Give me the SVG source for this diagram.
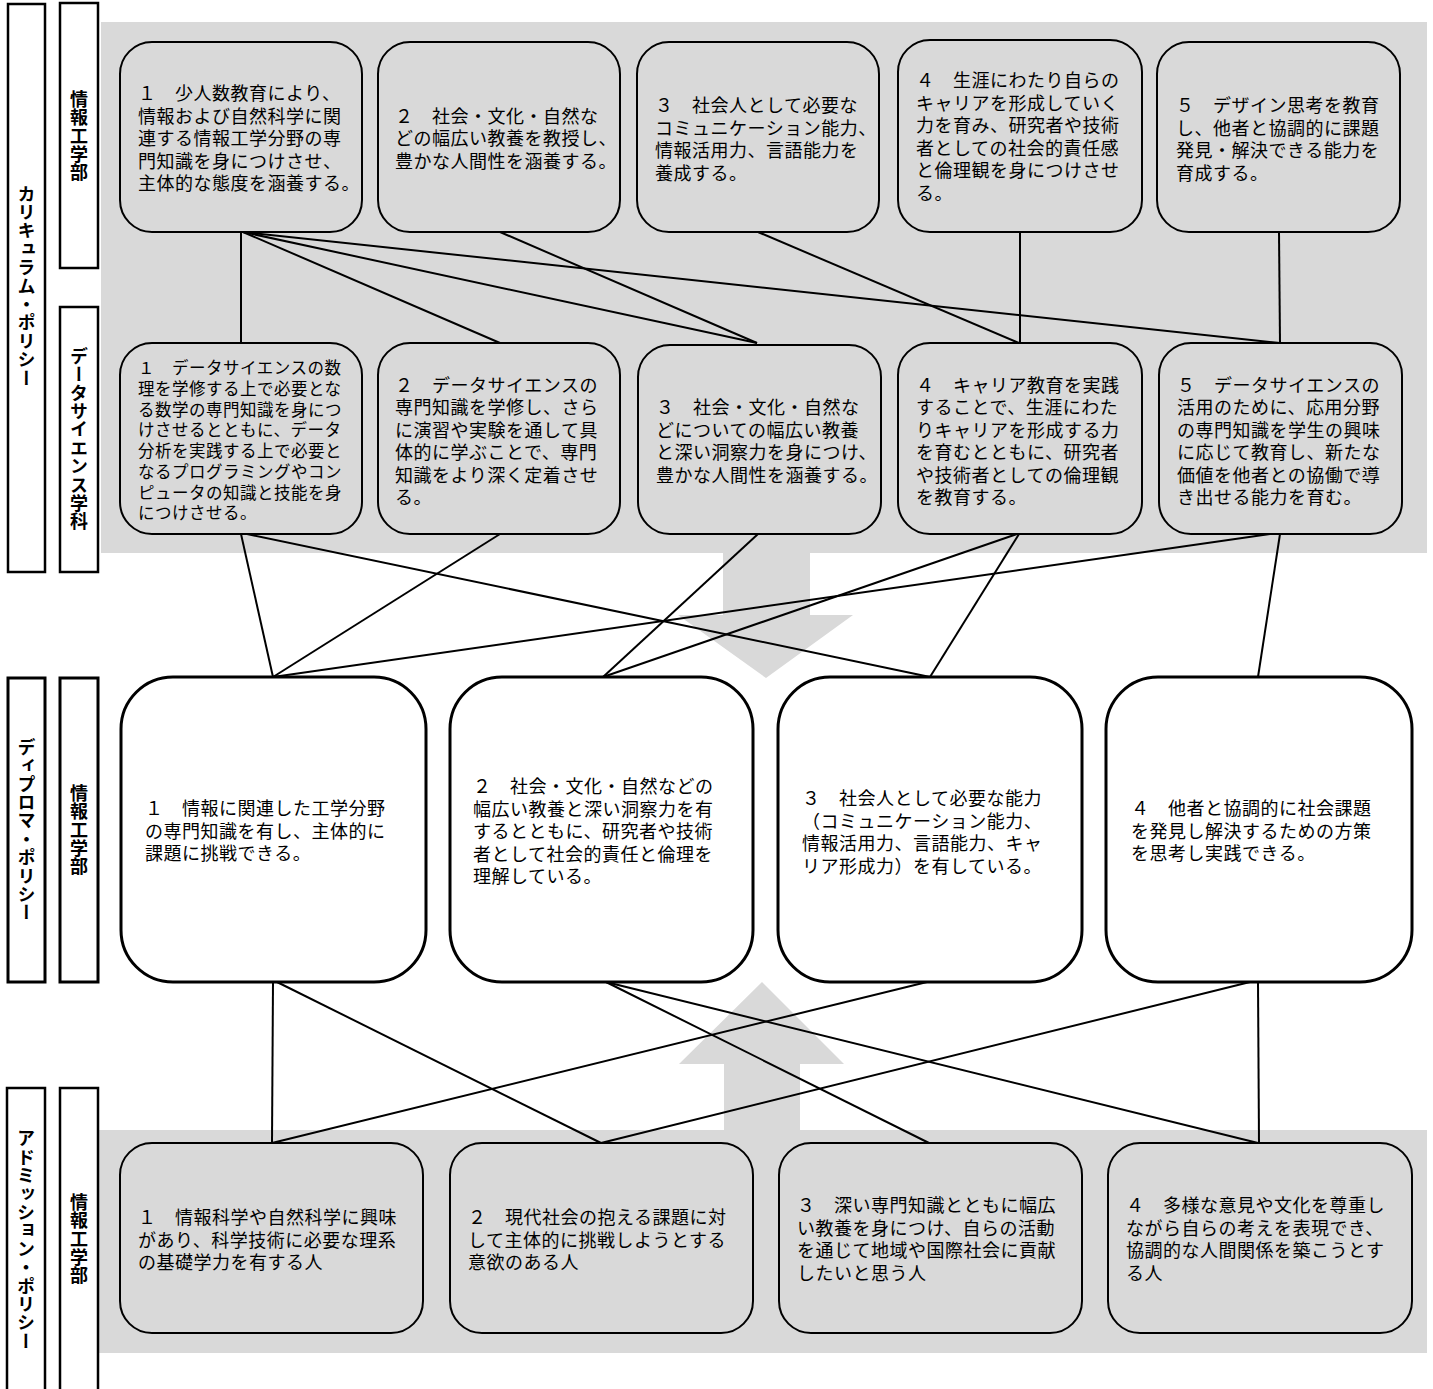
<svg xmlns="http://www.w3.org/2000/svg" width="1433" height="1389" viewBox="0 0 1433 1389">
<style>
.bg{fill:#d9d9d9}
.node{fill:#d9d9d9;stroke:#000;stroke-width:2}
.dp{fill:#fff;stroke:#000;stroke-width:3}
.lbl{fill:#fff;stroke:#000;stroke-width:2.5}
.t{font-family:"Noto Sans CJK JP","Noto Sans CJK SC",sans-serif;font-size:18px;letter-spacing:0.5px;fill:#000}
.ts{font-size:16.5px;letter-spacing:0.5px}
.vt{font-family:"Noto Sans CJK JP","Noto Sans CJK SC",sans-serif;font-size:18px;font-weight:bold;writing-mode:vertical-rl;text-anchor:middle;letter-spacing:0.4px;fill:#000}
.c{stroke:#000;stroke-width:2;fill:none}
</style>
<!-- backgrounds -->
<rect class="bg" x="101" y="22" width="1326" height="531"/>
<rect class="bg" x="98" y="1130" width="1329" height="223"/>
<polygon class="bg" points="723,553 810,553 810,615 853,615 766,678 678,615 723,615"/>
<polygon class="bg" points="724,1130 800,1130 800,1064 844,1064 762,982 679,1064 724,1064"/>
<!-- side labels -->
<g id="lbl-cp"><rect class="lbl" x="8" y="4" width="37" height="568"/><text class="vt" x="26.5" y="286">カリキュラム・ポリシー</text></g>
<g id="lbl-cp-ie"><rect class="lbl" x="60" y="3" width="38" height="265"/><text class="vt" x="79" y="136">情報工学部</text></g>
<g id="lbl-cp-ds"><rect class="lbl" x="60" y="307" width="38" height="265"/><text class="vt" x="79" y="439">データサイエンス学科</text></g>
<g id="lbl-dp"><rect class="lbl" x="8" y="678" width="37" height="304" style="stroke-width:3"/><text class="vt" x="26.5" y="830">ディプロマ・ポリシー</text></g>
<g id="lbl-dp-ie"><rect class="lbl" x="60" y="678" width="38" height="304" style="stroke-width:3"/><text class="vt" x="79" y="830">情報工学部</text></g>
<g id="lbl-ap"><rect class="lbl" x="7" y="1088" width="38" height="310"/><text class="vt" x="26" y="1240">アドミッション・ポリシー</text></g>
<g id="lbl-ap-ie"><rect class="lbl" x="60" y="1088" width="38" height="310"/><text class="vt" x="79" y="1239">情報工学部</text></g>
<!-- connectors -->
<g id="connectors" class="c">
<line x1="241" y1="232" x2="241" y2="343"/>
<line x1="243" y1="232" x2="500" y2="343"/>
<line x1="243" y1="232" x2="757" y2="343"/>
<line x1="243" y1="232" x2="1280" y2="343"/>
<line x1="500" y1="232" x2="757" y2="343"/>
<line x1="758" y1="232" x2="1019" y2="343"/>
<line x1="1020" y1="232" x2="1020" y2="343"/>
<line x1="1279" y1="232" x2="1280" y2="343"/>
<line x1="241" y1="534" x2="273" y2="677"/>
<line x1="247" y1="534" x2="930" y2="677"/>
<line x1="500" y1="534" x2="273" y2="677"/>
<line x1="758" y1="534" x2="603" y2="677"/>
<line x1="1017" y1="534" x2="603" y2="677"/>
<line x1="1019" y1="534" x2="930" y2="677"/>
<line x1="1270" y1="534" x2="273" y2="677"/>
<line x1="1280" y1="534" x2="1258" y2="677"/>
<line x1="273" y1="982" x2="272" y2="1143"/>
<line x1="277" y1="982" x2="601" y2="1143"/>
<line x1="606" y1="982" x2="929" y2="1143"/>
<line x1="606" y1="982" x2="1258" y2="1143"/>
<line x1="927" y1="982" x2="272" y2="1143"/>
<line x1="1250" y1="982" x2="601" y2="1143"/>
<line x1="1258" y1="982" x2="1259" y2="1143"/>
</g>
<!-- CP 情報工学部 -->
<g id="cp1"><rect class="node" x="120" y="42" width="242" height="190" rx="32"/>
<text class="t"><tspan x="138" y="100">１　少人数教育により、</tspan><tspan x="138" y="122.5">情報および自然科学に関</tspan><tspan x="138" y="145">連する情報工学分野の専</tspan><tspan x="138" y="167.5">門知識を身につけさせ、</tspan><tspan x="138" y="190">主体的な態度を涵養する。</tspan></text></g>
<g id="cp2"><rect class="node" x="378" y="42" width="242" height="190" rx="32"/>
<text class="t"><tspan x="395" y="122.5">２　社会・文化・自然な</tspan><tspan x="395" y="145">どの幅広い教養を教授し、</tspan><tspan x="395" y="167.5">豊かな人間性を涵養する。</tspan></text></g>
<g id="cp3"><rect class="node" x="637" y="42" width="242" height="190" rx="32"/>
<text class="t"><tspan x="655" y="112">３　社会人として必要な</tspan><tspan x="655" y="134.5">コミュニケーション能力、</tspan><tspan x="655" y="157">情報活用力、言語能力を</tspan><tspan x="655" y="179.5">養成する。</tspan></text></g>
<g id="cp4"><rect class="node" x="898" y="40" width="244" height="192" rx="32"/>
<text class="t"><tspan x="916" y="87">４　生涯にわたり自らの</tspan><tspan x="916" y="109.5">キャリアを形成していく</tspan><tspan x="916" y="132">力を育み、研究者や技術</tspan><tspan x="916" y="154.5">者としての社会的責任感</tspan><tspan x="916" y="177">と倫理観を身につけさせ</tspan><tspan x="916" y="199.5">る。</tspan></text></g>
<g id="cp5"><rect class="node" x="1157" y="42" width="243" height="190" rx="32"/>
<text class="t"><tspan x="1176" y="112">５　デザイン思考を教育</tspan><tspan x="1176" y="134.5">し、他者と協調的に課題</tspan><tspan x="1176" y="157">発見・解決できる能力を</tspan><tspan x="1176" y="179.5">育成する。</tspan></text></g>
<!-- CP データサイエンス学科 -->
<g id="ds1"><rect class="node" x="120" y="343" width="242" height="191" rx="32"/>
<text class="t ts"><tspan x="138" y="374.3">１　データサイエンスの数</tspan><tspan x="138" y="395">理を学修する上で必要とな</tspan><tspan x="138" y="415.7">る数学の専門知識を身につ</tspan><tspan x="138" y="436.4">けさせるとともに、データ</tspan><tspan x="138" y="457.1">分析を実践する上で必要と</tspan><tspan x="138" y="477.8">なるプログラミングやコン</tspan><tspan x="138" y="498.5">ピュータの知識と技能を身</tspan><tspan x="138" y="519.2">につけさせる。</tspan></text></g>
<g id="ds2"><rect class="node" x="378" y="343" width="242" height="191" rx="32"/>
<text class="t"><tspan x="395" y="392">２　データサイエンスの</tspan><tspan x="395" y="414.4">専門知識を学修し、さら</tspan><tspan x="395" y="436.8">に演習や実験を通して具</tspan><tspan x="395" y="459.2">体的に学ぶことで、専門</tspan><tspan x="395" y="481.6">知識をより深く定着させ</tspan><tspan x="395" y="504">る。</tspan></text></g>
<g id="ds3"><rect class="node" x="638" y="345" width="243" height="189" rx="32"/>
<text class="t"><tspan x="656" y="414">３　社会・文化・自然な</tspan><tspan x="656" y="436.5">どについての幅広い教養</tspan><tspan x="656" y="459">と深い洞察力を身につけ、</tspan><tspan x="656" y="481.5">豊かな人間性を涵養する。</tspan></text></g>
<g id="ds4"><rect class="node" x="898" y="343" width="244" height="191" rx="32"/>
<text class="t"><tspan x="916" y="392">４　キャリア教育を実践</tspan><tspan x="916" y="414.4">することで、生涯にわた</tspan><tspan x="916" y="436.8">りキャリアを形成する力</tspan><tspan x="916" y="459.2">を育むとともに、研究者</tspan><tspan x="916" y="481.6">や技術者としての倫理観</tspan><tspan x="916" y="504">を教育する。</tspan></text></g>
<g id="ds5"><rect class="node" x="1159" y="343" width="243" height="191" rx="32"/>
<text class="t"><tspan x="1177" y="392">５　データサイエンスの</tspan><tspan x="1177" y="414.4">活用のために、応用分野</tspan><tspan x="1177" y="436.8">の専門知識を学生の興味</tspan><tspan x="1177" y="459.2">に応じて教育し、新たな</tspan><tspan x="1177" y="481.6">価値を他者との協働で導</tspan><tspan x="1177" y="504">き出せる能力を育む。</tspan></text></g>
<!-- DP -->
<g id="dp1"><rect class="dp" x="121" y="677" width="305" height="305" rx="52"/>
<text class="t"><tspan x="145" y="815">１　情報に関連した工学分野</tspan><tspan x="145" y="837.5">の専門知識を有し、主体的に</tspan><tspan x="145" y="860">課題に挑戦できる。</tspan></text></g>
<g id="dp2"><rect class="dp" x="450" y="677" width="303" height="305" rx="52"/>
<text class="t"><tspan x="473" y="793">２　社会・文化・自然などの</tspan><tspan x="473" y="815.5">幅広い教養と深い洞察力を有</tspan><tspan x="473" y="838">するとともに、研究者や技術</tspan><tspan x="473" y="860.5">者として社会的責任と倫理を</tspan><tspan x="473" y="883">理解している。</tspan></text></g>
<g id="dp3"><rect class="dp" x="778" y="677" width="304" height="305" rx="52"/>
<text class="t"><tspan x="802" y="805">３　社会人として必要な能力</tspan><tspan x="802" y="827.5">（コミュニケーション能力、</tspan><tspan x="802" y="850">情報活用力、言語能力、キャ</tspan><tspan x="802" y="872.5">リア形成力）を有している。</tspan></text></g>
<g id="dp4"><rect class="dp" x="1106" y="677" width="306" height="305" rx="52"/>
<text class="t"><tspan x="1131" y="815">４　他者と協調的に社会課題</tspan><tspan x="1131" y="837.5">を発見し解決するための方策</tspan><tspan x="1131" y="860">を思考し実践できる。</tspan></text></g>
<!-- AP -->
<g id="ap1"><rect class="node" x="120" y="1143" width="303" height="190" rx="32"/>
<text class="t"><tspan x="138" y="1224">１　情報科学や自然科学に興味</tspan><tspan x="138" y="1246.5">があり、科学技術に必要な理系</tspan><tspan x="138" y="1269">の基礎学力を有する人</tspan></text></g>
<g id="ap2"><rect class="node" x="450" y="1143" width="303" height="190" rx="32"/>
<text class="t"><tspan x="468" y="1224">２　現代社会の抱える課題に対</tspan><tspan x="468" y="1246.5">して主体的に挑戦しようとする</tspan><tspan x="468" y="1269">意欲のある人</tspan></text></g>
<g id="ap3"><rect class="node" x="779" y="1143" width="303" height="190" rx="32"/>
<text class="t"><tspan x="797" y="1212">３　深い専門知識とともに幅広</tspan><tspan x="797" y="1234.5">い教養を身につけ、自らの活動</tspan><tspan x="797" y="1257">を通じて地域や国際社会に貢献</tspan><tspan x="797" y="1279.5">したいと思う人</tspan></text></g>
<g id="ap4"><rect class="node" x="1108" y="1143" width="304" height="190" rx="32"/>
<text class="t"><tspan x="1126" y="1212">４　多様な意見や文化を尊重し</tspan><tspan x="1126" y="1234.5">ながら自らの考えを表現でき、</tspan><tspan x="1126" y="1257">協調的な人間関係を築こうとす</tspan><tspan x="1126" y="1279.5">る人</tspan></text></g>
</svg>
